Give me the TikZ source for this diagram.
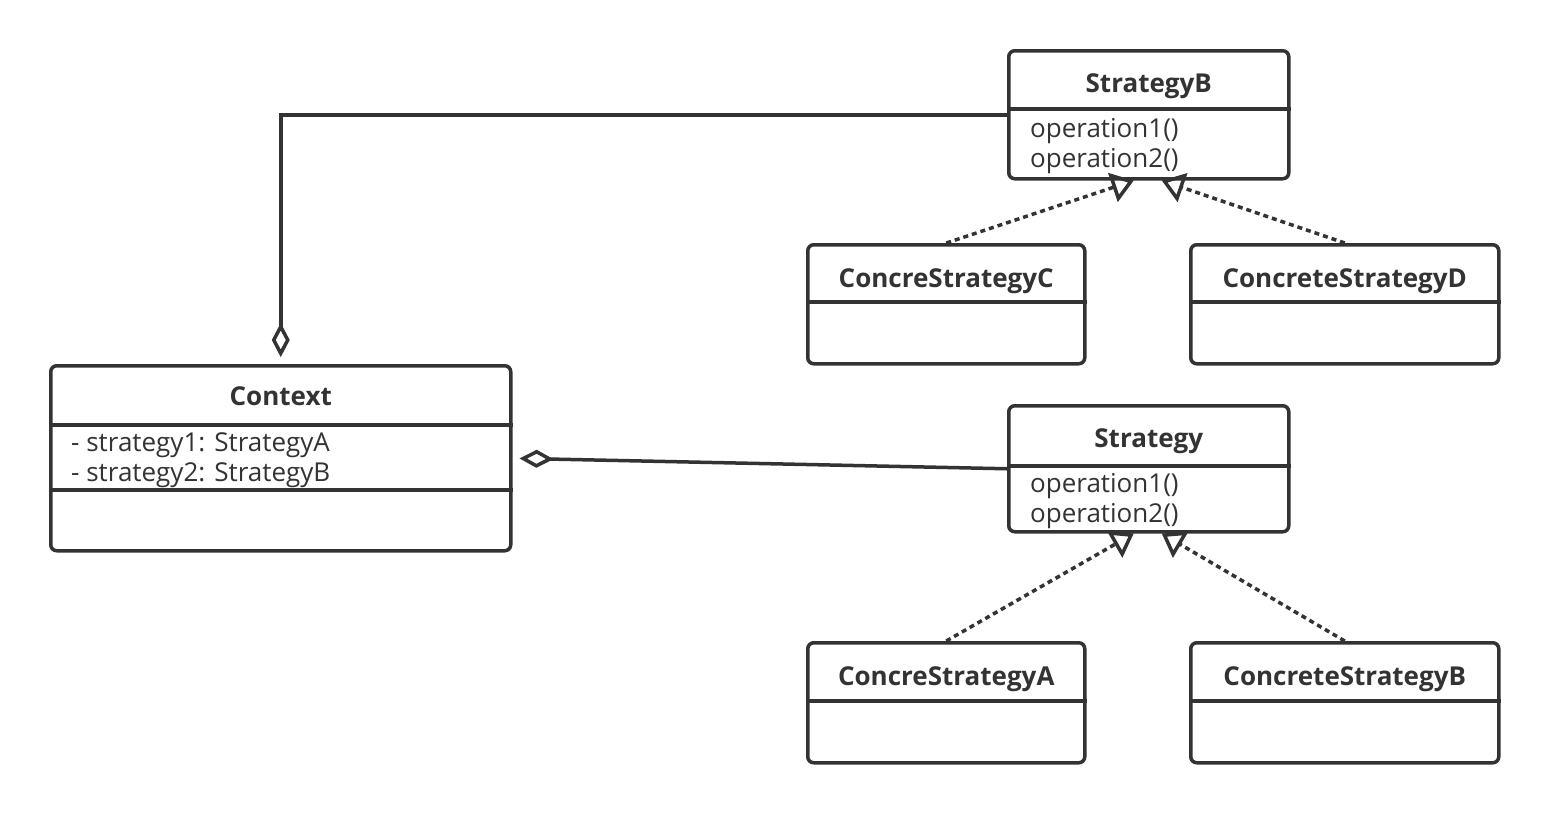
\documentclass[tikz,border=0pt]{standalone}
\usepackage{fontspec}
\setmainfont{Open Sans}
\usetikzlibrary{arrows.meta,calc}
\definecolor{ink}{HTML}{333333}
\begin{document}
\begin{tikzpicture}[x=1pt,y=-1pt,
  box/.style={draw=ink, line width=3.5pt, rounded corners=6pt, anchor=north west, inner sep=0pt},
  cname/.style={font=\fontsize{26}{31}\selectfont\bfseries, text=ink, anchor=base, inner sep=0pt},
  item/.style={font=\fontsize{26}{31}\selectfont, text=ink, anchor=base west, inner sep=0pt},
  divider/.style={draw=ink, line width=3.5pt},
  realize/.style={draw=ink, line width=3.5pt, dash pattern=on 5pt off 4pt, -{Triangle[open,length=22pt,width=30pt]}},
  aggreg/.style={draw=ink, line width=3.5pt, -{Diamond[open,length=34pt,width=18pt]}}
]
\fill[white] (0,0) rectangle (1546,812);
\useasboundingbox (0,0) rectangle (1546,812);

% StrategyB
\node[box, minimum width=280pt, minimum height=128pt] (sb) at (1007,49) {};
\draw[divider] (sb.west |- 0,109) -- (sb.east |- 0,109);
\node[cname] (sbt) at (sb.center |- 0,92) {StrategyB};
\node[item] (sbo1) at (1030,137) {operation1()};
\node[item] (sbo2) at (1030,167) {operation2()};

% ConcreStrategyC
\node[box, minimum width=277pt, minimum height=119pt] (cc) at (806,243) {};
\draw[divider] (cc.west |- 0,302) -- (cc.east |- 0,302);
\node[cname] (cct) at (cc.center |- 0,287) {ConcreStrategyC};

% ConcreteStrategyD
\node[box, minimum width=308pt, minimum height=119pt] (cd) at (1189,243) {};
\draw[divider] (cd.west |- 0,302) -- (cd.east |- 0,302);
\node[cname] (cdt) at (cd.center |- 0,287) {ConcreteStrategyD};

% Context
\node[box, minimum width=460pt, minimum height=185pt] (ctx) at (49,364) {};
\draw[divider] (ctx.west |- 0,425) -- (ctx.east |- 0,425);
\draw[divider] (ctx.west |- 0,490) -- (ctx.east |- 0,490);
\node[cname] (ctxt) at (ctx.center |- 0,405) {Context};
\node[item] (ctxa1) at (71,451) {- strategy1: StrategyA};
\node[item] (ctxa2) at (71,481) {- strategy2: StrategyB};

% Strategy
\node[box, minimum width=280pt, minimum height=126pt] (st) at (1007,404) {};
\draw[divider] (st.west |- 0,466) -- (st.east |- 0,466);
\node[cname] (stt) at (st.center |- 0,447) {Strategy};
\node[item] (sto1) at (1030,492) {operation1()};
\node[item] (sto2) at (1030,522) {operation2()};

% ConcreStrategyA
\node[box, minimum width=277pt, minimum height=120pt] (ca) at (806,641) {};
\draw[divider] (ca.west |- 0,701) -- (ca.east |- 0,701);
\node[cname] (cat) at (ca.center |- 0,685) {ConcreStrategyA};

% ConcreteStrategyB
\node[box, minimum width=308pt, minimum height=120pt] (cb) at (1189,641) {};
\draw[divider] (cb.west |- 0,701) -- (cb.east |- 0,701);
\node[cname] (cbt) at (cb.center |- 0,685) {ConcreteStrategyB};

% connectors
\draw[aggreg, shorten >=7pt] (sb.west) -| (ctx.north);
\draw[aggreg, shorten >=7pt] (st.west) -- (ctx.east);
\draw[realize] (cc.north) -- ($(sb.south)+(-15,0)$);
\draw[realize] (cd.north) -- ($(sb.south)+(13,0)$);
\draw[realize] (ca.north) -- ($(st.south)+(-15,0)$);
\draw[realize] (cb.north) -- ($(st.south)+(13,0)$);
\end{tikzpicture}
\end{document}
